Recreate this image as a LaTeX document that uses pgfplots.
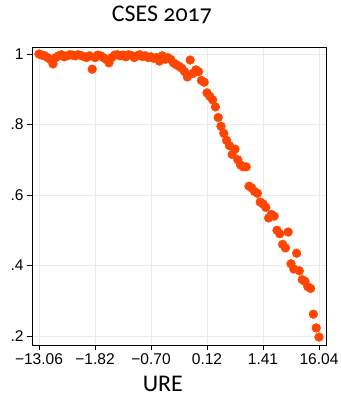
\documentclass[border=0pt]{standalone}
\usepackage{fontspec}
\usepackage{pgfplots}
\pgfplotsset{compat=1.18}
\usetikzlibrary{calc}
\setmainfont{Liberation Sans}
\newfontfamily\titlefont[Numbers=OldStyle]{Carlito}
\definecolor{dotc}{RGB}{255,69,0}
\definecolor{gridc}{RGB}{235,235,235}
\begin{document}
\begin{tikzpicture}
\begin{axis}[
  scale only axis,
  width=294bp, height=298bp,
  xmin=-2.5, xmax=102.5,
  ymin=0.1745, ymax=1.02,
  xtick={0,20,40,60,80,100},
  xticklabels={−13.06,−1.82,−0.70,0.12,1.41,16.04},
  ytick={0.2,0.4,0.6,0.8,1},
  yticklabels={.2,.4,.6,.8,1},
  /pgf/number format/assume math mode=true,
  ticklabel style={font=\fontsize{15.6}{18}\selectfont},
  tick align=outside,
  tick pos=left,
  major tick length=5bp,
  tick style={black, line width=0.8pt},
  axis line style={black, line width=0.8pt},
  grid=major,
  grid style={gridc, line width=0.8pt},
  title={\titlefont\fontsize{24}{26}\selectfont CSES 2017},
  title style={at={(axis description cs:0.442,1)}, anchor=base, yshift=20bp, inner sep=0pt, outer sep=0pt},
  xlabel={\titlefont\fontsize{24}{26}\selectfont URE},
  xlabel style={at={(axis description cs:0.445,0)}, anchor=base, yshift=-46bp, inner sep=0pt, outer sep=0pt},
  clip=false,
]
\addplot[only marks, mark=*, mark size=4.4bp, mark options={draw=dotc, fill=dotc}] coordinates {
(0,1.0) (1,0.997) (2,0.995) (3,0.99) (4,0.985) (5,0.972) (6,0.99) (7,0.995) (8,0.998) (9,0.992)
(10,0.995) (11,0.998) (12,0.997) (13,0.995) (14,0.998) (15,0.996) (16,0.993) (17,0.99) (18,0.995) (19,0.957)
(20,0.99) (21,0.997) (22,0.995) (23,0.99) (24,0.985) (25,0.975) (26,0.99) (27,0.997) (28,0.998) (29,0.995)
(30,0.997) (31,0.992) (32,0.998) (33,0.996) (34,0.99) (35,0.995) (36,0.998) (37,0.993) (38,0.995) (39,0.99)
(40,0.992) (41,0.988) (42,0.99) (43,0.98) (44,0.995) (45,0.985) (46,0.99) (47,0.985) (48,0.975) (49,0.97)
(50,0.965) (51,0.96) (52,0.95) (53,0.935) (54,0.983) (55,0.945) (56,0.955) (57,0.95) (58,0.925) (59,0.92)
(60,0.89) (61,0.88) (62,0.87) (63,0.85) (64,0.82) (65,0.795) (66,0.775) (67,0.755) (68,0.74) (69,0.715)
(70,0.73) (71,0.70) (72,0.685) (73,0.68) (74,0.68) (75,0.625) (76,0.62) (77,0.61) (78,0.605) (79,0.58)
(80,0.575) (81,0.565) (82,0.535) (83,0.545) (84,0.54) (85,0.50) (86,0.49) (87,0.46) (88,0.45) (89,0.495)
(90,0.405) (91,0.39) (92,0.435) (93,0.385) (94,0.36) (95,0.355) (96,0.34) (97,0.335) (98,0.262) (99,0.223)
(100,0.197)
};
\end{axis}
\pgfresetboundingbox
\useasboundingbox ($(current axis.south west)+(-32bp,-52bp)$) rectangle ($(current axis.north east)+(15bp,47bp)$);
\end{tikzpicture}
\end{document}
